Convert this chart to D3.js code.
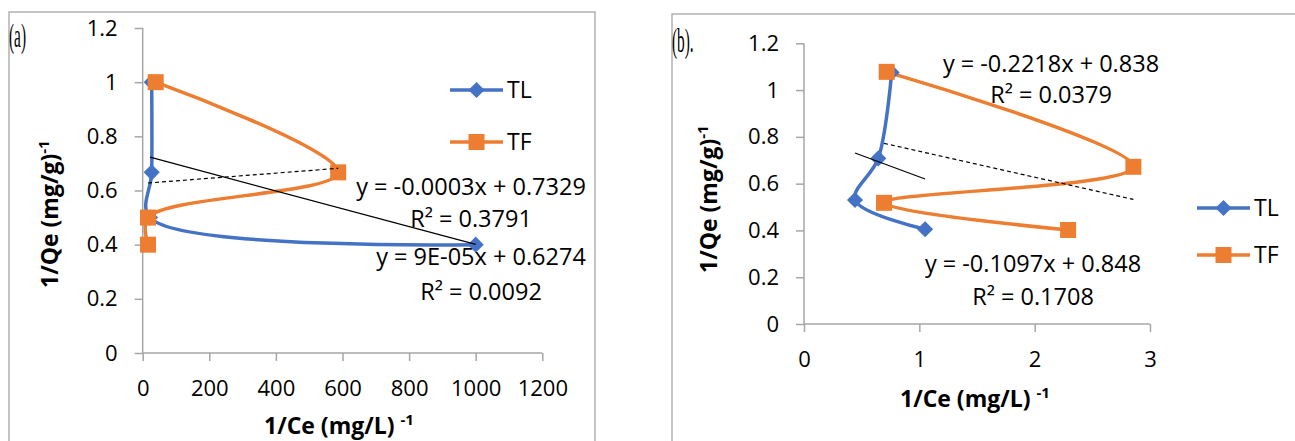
<!DOCTYPE html>
<html>
<head>
<meta charset="utf-8">
<script src="https://cdn.jsdelivr.net/npm/d3@7"></script>
<style>
  body { margin: 0; background: #fff; }
  svg { display: block; font-family: 'Open Sans', sans-serif; }
  .tick text { fill: #000; }
</style>
</head>
<body>
<svg id="chart" width="1295" height="441"></svg>
<script>
// panel (a)
const tlAx = [27, 27, 22, 1000];
const tlAy = [1.0, 0.667, 0.5, 0.4];
const tfAx = [39, 587, 16, 16];
const tfAy = [1.0, 0.667, 0.5, 0.4];
// panel (b)
const tlBx = [0.76, 0.644, 0.442, 1.05];
const tlBy = [1.075, 0.708, 0.53, 0.405];
const tfBx = [0.717, 2.856, 0.694, 2.29];
const tfBy = [1.078, 0.672, 0.518, 0.402];

const xTicksA = [0, 200, 400, 600, 800, 1000, 1200];
const xTicksB = [0, 1, 2, 3];
const yTicks = [0, 0.2, 0.4, 0.6, 0.8, 1, 1.2];
const seriesNames = ['TL', 'TF'];
const eqA = ['y = -0.0003x + 0.7329', 'R² = 0.3791', 'y = 9E-05x + 0.6274', 'R² = 0.0092'];
const eqB = ['y = -0.2218x + 0.838', 'R² = 0.0379', 'y = -0.1097x + 0.848', 'R² = 0.1708'];

const blue = '#4472c4';
const orange = '#ed7d31';
const axisGrey = '#a6a6a6';

const svg = d3.select('#chart');

function zip(xs, ys) {
  return xs.map((x, i) => [x, ys[i]]);
}

// least squares fit, drawn over the series x range like excel does
function fit(pts) {
  const mx = d3.mean(pts, d => d[0]);
  const my = d3.mean(pts, d => d[1]);
  const sxy = d3.sum(pts, d => (d[0] - mx) * (d[1] - my));
  const sxx = d3.sum(pts, d => (d[0] - mx) ** 2);
  const m = sxy / sxx;
  const b = my - m * mx;
  const [x0, x1] = d3.extent(pts, d => d[0]);
  return [[x0, m * x0 + b], [x1, m * x1 + b]];
}

function drawMarker(g, type, color) {
  if (type === 'diamond') {
    g.append('path')
      .attr('d', d3.symbol(d3.symbolSquare, 130)())
      .attr('transform', 'rotate(45)')
      .attr('fill', color);
  } else {
    g.append('path')
      .attr('d', d3.symbol(d3.symbolSquare, 256)())
      .attr('fill', color);
  }
}

function panel(p) {
  const x = d3.scaleLinear().domain(p.xDomain).range(p.xRange);
  const y = d3.scaleLinear().domain([0, 1.2]).range(p.yRange);
  const g = svg.append('g');

  g.append('rect')
    .attr('x', p.frame[0]).attr('y', p.frame[1])
    .attr('width', p.frame[2]).attr('height', 500)
    .attr('fill', 'none')
    .attr('stroke', axisGrey)
    .attr('stroke-width', 1.3);

  g.append('text')
    .attr('transform', `translate(${p.tag[0]},${p.tag[1]}) scale(0.45,1)`)
    .style('font-family', "'Liberation Serif', serif")
    .style('font-size', '34px')
    .text(p.tag[2]);

  const xAxis = g.append('g')
    .attr('transform', `translate(0,${p.yRange[0]})`)
    .call(d3.axisBottom(x).tickValues(p.xTicks).tickSize(8).tickPadding(19).tickFormat(d3.format('~g')));
  const yAxis = g.append('g')
    .attr('transform', `translate(${p.xRange[0]},0)`)
    .call(d3.axisLeft(y).tickValues(yTicks).tickSize(8).tickPadding(17).tickFormat(d3.format('~g')));
  [xAxis, yAxis].forEach(a => {
    a.selectAll('.domain').attr('stroke', axisGrey).attr('stroke-width', 1.5)
      .attr('d', a === xAxis ? `M${p.xRange[0]},0H${p.xRange[1]}` : `M0,${p.yRange[0]}V${p.yRange[1]}`);
    a.selectAll('.tick line').attr('stroke', axisGrey).attr('stroke-width', 1.5);
    a.selectAll('.tick text').style('font-size', '22px').style('font-family', "'Open Sans', sans-serif");
  });

  // axis titles
  const xt = g.append('text')
    .attr('x', p.xTitle[0]).attr('y', p.xTitle[1])
    .style('font-weight', 'bold').style('font-size', '23px');
  xt.append('tspan').text('1/Ce (mg/L) ');
  xt.append('tspan').attr('dy', -9).style('font-size', '15px').text('-1');

  const yt = g.append('text')
    .attr('transform', `translate(${p.yTitle[0]},${p.yTitle[1]}) rotate(-90)`)
    .style('font-weight', 'bold').style('font-size', '23px');
  yt.append('tspan').text('1/Qe (mg/g)');
  yt.append('tspan').attr('dy', -9).style('font-size', '15px').text('-1');

  const line = d3.line()
    .x(d => x(d[0]))
    .y(d => y(d[1]))
    .curve(d3.curveCatmullRom.alpha(0.5));

  p.series.forEach(s => {
    g.append('path')
      .attr('d', line(s.pts))
      .attr('fill', 'none')
      .attr('stroke', s.color)
      .attr('stroke-width', 3.5)
      .attr('stroke-linejoin', 'round');
  });
  p.series.forEach(s => {
    s.pts.forEach(d => {
      drawMarker(g.append('g').attr('transform', `translate(${x(d[0])},${y(d[1])})`), s.marker, s.color);
    });
  });

  // trend lines
  p.series.forEach(s => {
    const t = fit(s.pts);
    g.append('line')
      .attr('x1', x(t[0][0])).attr('y1', y(t[0][1]))
      .attr('x2', x(t[1][0])).attr('y2', y(t[1][1]))
      .attr('stroke', '#000')
      .attr('stroke-width', 1.2)
      .attr('stroke-dasharray', s.dash ? '4,3' : null);
  });

  // equation labels
  p.eqPos.forEach((pos, i) => {
    g.append('text')
      .attr('x', pos[0]).attr('y', pos[1])
      .attr('text-anchor', 'middle')
      .style('font-size', '23.5px')
      .text(p.eq[i]);
  });

  // legend
  p.series.forEach((s, i) => {
    const ly = p.legend[1] + i * p.legend[2];
    g.append('line')
      .attr('x1', p.legend[0]).attr('x2', p.legend[0] + 53)
      .attr('y1', ly).attr('y2', ly)
      .attr('stroke', s.color).attr('stroke-width', 3.5);
    drawMarker(g.append('g').attr('transform', `translate(${p.legend[0] + 26.5},${ly})`), s.marker, s.color);
    g.append('text')
      .attr('x', p.legend[0] + 57).attr('y', ly + 8)
      .style('font-size', '23px')
      .text(seriesNames[i]);
  });
}

panel({
  frame: [9, 12, 586],
  tag: [9, 47, '(a)'],
  xDomain: [0, 1200], xRange: [142.7, 542.3], yRange: [353, 28],
  xTicks: xTicksA,
  xTitle: [264, 434], yTitle: [58, 288],
  series: [
    { pts: zip(tlAx, tlAy), color: blue, marker: 'diamond', dash: false },
    { pts: zip(tfAx, tfAy), color: orange, marker: 'square', dash: true }
  ],
  eq: eqA,
  eqPos: [[471, 195], [471, 227], [481, 265], [481, 300]],
  legend: [450, 90, 52]
});

panel({
  frame: [672, 14, 700],
  tag: [672, 52, '(b).'],
  xDomain: [0, 3], xRange: [804, 1150], yRange: [324, 43.3],
  xTicks: xTicksB,
  xTitle: [900, 407], yTitle: [717, 273],
  series: [
    { pts: zip(tlBx, tlBy), color: blue, marker: 'diamond', dash: false },
    { pts: zip(tfBx, tfBy), color: orange, marker: 'square', dash: true }
  ],
  eq: eqB,
  eqPos: [[1051, 72], [1051, 103], [1033, 272], [1033, 305]],
  legend: [1197, 208, 47]
});
</script>
</body>
</html>
